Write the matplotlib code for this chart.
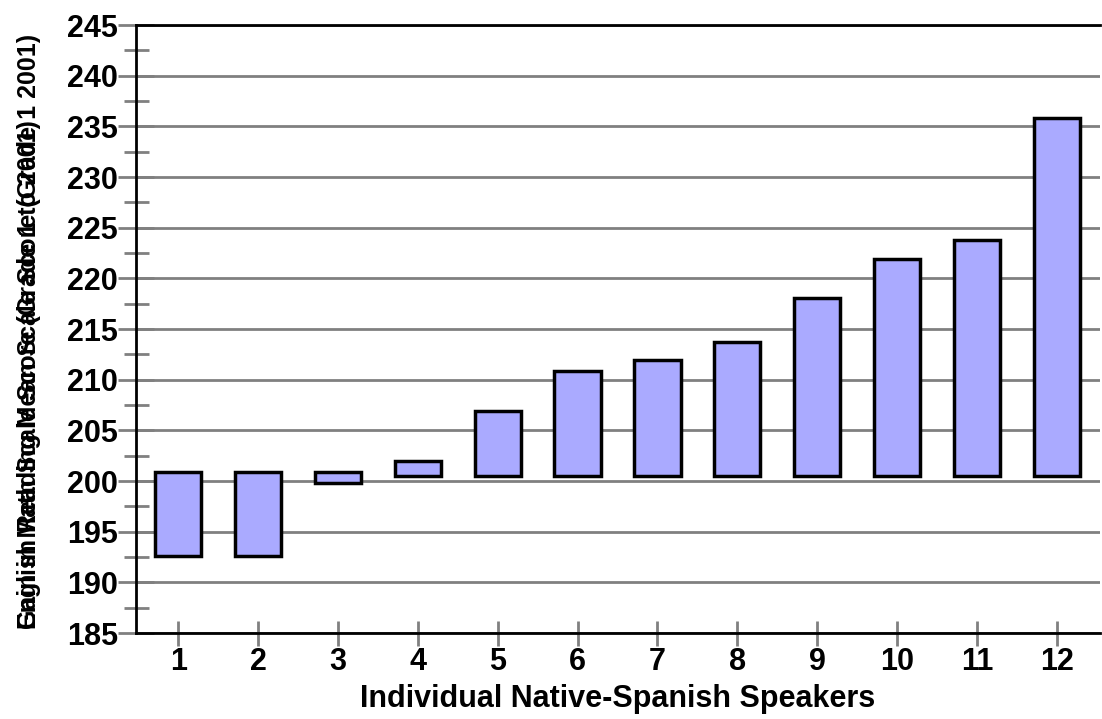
import matplotlib.pyplot as plt
from matplotlib.ticker import MultipleLocator

plt.rcParams['font.family'] = ['Liberation Sans', 'DejaVu Sans']
plt.rcParams['font.weight'] = 'bold'
plt.rcParams['axes.labelweight'] = 'bold'

speakers = list(range(1, 13))
bottoms = [192.6, 192.6, 199.8, 200.5, 200.5, 200.5, 200.5, 200.5, 200.5, 200.5, 200.5, 200.5]
tops = [200.9, 200.9, 200.9, 202.0, 206.9, 210.9, 211.9, 213.7, 218.1, 221.9, 223.8, 235.8]
heights = [t - b for t, b in zip(tops, bottoms)]
ylabels = ["English Reading Mean Scale Score (Grade 1 2001)",
           "Gain in Math Scale Score (Grade 1 to 2001)"]

fig = plt.figure(figsize=(11.02, 7.19), dpi=100)
ax = fig.add_axes([0.1234, 0.1196, 0.8746, 0.8454])

ax.bar(speakers, heights, bottom=bottoms, width=0.58, color='#aaaaff',
       edgecolor='black', linewidth=2.5, zorder=3)

ax.set_xlim(0.47, 12.54)
ax.set_ylim(185, 245)
ax.set_xticks(speakers)
ax.yaxis.set_major_locator(MultipleLocator(5))
ax.yaxis.set_minor_locator(MultipleLocator(2.5))
ax.grid(axis='y', color='#808080', linewidth=2, zorder=1)

ax.spines['right'].set_visible(False)
for s in ['left', 'bottom', 'top']:
    ax.spines[s].set_linewidth(2)
    ax.spines[s].set_zorder(4)

ax.tick_params(axis='y', which='major', direction='inout', length=26, width=2,
               color='#808080', labelsize=22, pad=0)
ax.tick_params(axis='y', which='minor', direction='inout', length=18, width=2,
               color='#808080')
ax.tick_params(axis='x', direction='inout', length=18, width=2,
               color='#808080', labelsize=22, pad=1)

ax.set_xlabel("Individual Native-Spanish Speakers", fontsize=22, labelpad=5)
for lab in ylabels:
    fig.text(0.026, 0.125, lab, rotation=90, fontsize=18, ha='center',
             va='bottom', fontweight='bold')

plt.savefig('out.png', dpi=100)
